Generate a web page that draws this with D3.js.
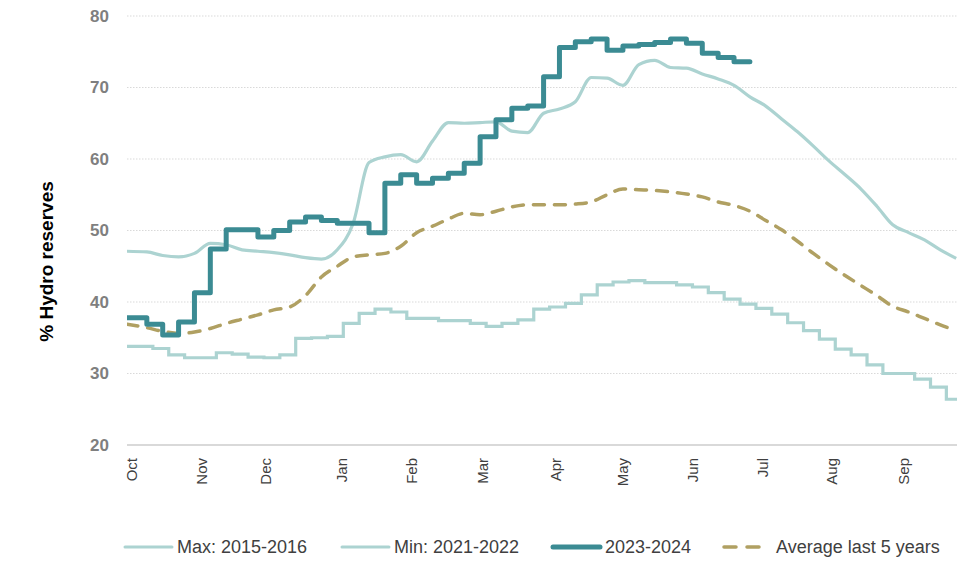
<!DOCTYPE html>
<html>
<head>
<meta charset="utf-8">
<script src="https://cdn.jsdelivr.net/npm/d3@7"></script>
<style>
  body { margin: 0; background: #fff; }
  svg { font-family: "Liberation Sans Narrow", "Liberation Sans", sans-serif; }
  .grid line { stroke: #d9d9d9; stroke-width: 1; stroke-dasharray: 1.5,1.5; }
  .yaxis text { fill: #7f7f7f; font-size: 17px; font-weight: bold; }
  .xaxis text { fill: #404040; font-size: 15px; }
  .axis path, .axis line { display: none; }
  .legend text { fill: #404040; font-size: 18px; }
</style>
</head>
<body>
<svg id="chart" width="958" height="564"></svg>
<script>
// month labels and where they sit, in weeks from start of October
const months = ["Oct", "Nov", "Dec", "Jan", "Feb", "Mar", "Apr", "May", "Jun", "Jul", "Aug", "Sep"];
const monthWeeks = [0, 4.41, 8.44, 13.23, 17.64, 22.12, 26.72, 30.94, 35.35, 39.76, 44.11, 48.64];
const yTicks = [20, 30, 40, 50, 60, 70, 80];

// weekly values, % hydro reserves
const maxSeries = [47.1, 47.0, 46.5, 46.3, 46.8, 48.2, 48.0, 47.3, 47.1, 46.9, 46.6, 46.2, 46.0, 47.3,
  51.0, 59.5, 60.3, 60.6, 59.6, 62.5, 65.1, 65.0, 65.1, 65.2, 63.9, 63.7, 66.4, 67.0, 68.0, 71.4,
  71.3, 70.3, 73.2, 73.8, 72.8, 72.7, 71.9, 71.2, 70.3, 68.7, 67.4, 65.6, 63.8, 61.8, 59.7, 57.8,
  55.8, 53.4, 50.8, 49.7, 48.7, 47.3, 46.1];
const minSeries = [33.8, 33.5, 32.6, 32.2, 32.2, 32.9, 32.7, 32.3, 32.2, 32.6, 34.9, 35.0, 35.2, 37.0,
  38.4, 39.0, 38.6, 37.7, 37.7, 37.4, 37.4, 37.0, 36.6, 37.0, 37.5, 39.0, 39.3, 39.8, 41.0, 42.4,
  42.8, 43.0, 42.7, 42.7, 42.4, 42.1, 41.3, 40.4, 39.7, 39.1, 38.3, 37.1, 36.0, 34.8, 33.4, 32.6,
  31.2, 30.0, 30.0, 29.2, 28.1, 26.4, 26.4];
const currentSeries = [37.8, 36.9, 35.4, 37.2, 41.3, 47.4, 50.1, 50.1, 49.1, 50.0, 51.2, 51.9, 51.4,
  51.0, 51.0, 49.7, 56.6, 57.8, 56.6, 57.3, 58.0, 59.4, 63.1, 65.5, 67.1, 67.4, 71.5, 75.6, 76.4,
  76.8, 75.2, 75.8, 76.0, 76.3, 76.8, 76.2, 74.8, 74.2, 73.6, 73.6];
const avgSeries = [36.9, 36.4, 35.9, 35.6, 35.8, 36.3, 37.0, 37.6, 38.2, 38.9, 39.3, 40.9, 43.5, 45.0,
  46.3, 46.6, 46.8, 47.8, 49.7, 50.6, 51.6, 52.4, 52.2, 52.7, 53.3, 53.6, 53.6, 53.6, 53.7, 54.0,
  55.0, 55.8, 55.7, 55.6, 55.4, 55.1, 54.7, 54.0, 53.5, 52.7, 51.4, 50.1, 48.5, 46.8, 45.2, 43.7,
  42.3, 40.9, 39.4, 38.6, 37.7, 36.8, 36.0];

const lightTeal = "#acd3d1", darkTeal = "#3b8b93", olive = "#b0a062";

const svg = d3.select("#chart");
const plotLeft = 127, plotRight = 957, plotTop = 16, plotBottom = 445;

const x = d3.scaleLinear().domain([-0.25, 52.05]).range([plotLeft, plotRight]);
const y = d3.scaleLinear().domain([20, 80]).range([plotBottom, plotTop]);

// first point starts at the left edge, weekly steps can be shifted a bit
const xAt = (i, shift) => x(i === 0 ? -0.25 : i + shift);

svg.append("clipPath").attr("id", "plot")
  .append("rect").attr("x", plotLeft).attr("y", 0)
  .attr("width", plotRight - plotLeft).attr("height", plotBottom);

// dotted gridlines
svg.append("g").attr("class", "grid")
  .selectAll("line").data(yTicks.filter(d => d > 20)).join("line")
  .attr("x1", plotLeft).attr("x2", plotRight)
  .attr("y1", d => y(d)).attr("y2", d => y(d));

// baseline at 20
svg.append("line")
  .attr("x1", plotLeft).attr("x2", plotRight).attr("y1", y(20)).attr("y2", y(20))
  .attr("stroke", "#d9d9d9").attr("stroke-width", 2);

// Y axis
const yAxis = svg.append("g").attr("class", "axis yaxis")
  .attr("transform", "translate(" + plotLeft + ",0)")
  .call(d3.axisLeft(y).tickValues(yTicks).tickSize(0).tickPadding(18));
yAxis.select(".domain").remove();

svg.append("text")
  .attr("transform", "translate(53," + (y(50) + 31) + ") rotate(-90)")
  .attr("text-anchor", "middle")
  .style("font-size", "19px").style("font-weight", "bold").style("fill", "#000")
  .text("% Hydro reserves");

// X axis, rotated month names
const xAxis = svg.append("g").attr("class", "axis xaxis")
  .attr("transform", "translate(0," + plotBottom + ")")
  .call(d3.axisBottom(x).tickValues(monthWeeks).tickSize(0)
    .tickFormat((d, i) => months[i]));
xAxis.select(".domain").remove();
xAxis.selectAll("text")
  .attr("transform", "rotate(-90)")
  .attr("x", -13).attr("y", 0).attr("dy", "0.35em")
  .style("text-anchor", "end");

const lines = svg.append("g").attr("clip-path", "url(#plot)");

const smooth = d3.line().x((d, i) => xAt(i, 0)).y(d => y(d)).curve(d3.curveMonotoneX);

lines.append("path").attr("d", smooth(maxSeries))
  .attr("fill", "none").attr("stroke", lightTeal).attr("stroke-width", 3.2);

lines.append("path")
  .attr("d", d3.line().x((d, i) => xAt(i, 0.38)).y(d => y(d)).curve(d3.curveStepAfter)(minSeries))
  .attr("fill", "none").attr("stroke", lightTeal).attr("stroke-width", 3.2);

lines.append("path").attr("d", smooth(avgSeries))
  .attr("fill", "none").attr("stroke", olive).attr("stroke-width", 3.5)
  .attr("stroke-dasharray", "11,10").attr("stroke-linecap", "round");

lines.append("path")
  .attr("d", d3.line().x((d, i) => xAt(i, 0)).y(d => y(d)).curve(d3.curveStepAfter)(currentSeries))
  .attr("fill", "none").attr("stroke", darkTeal).attr("stroke-width", 5)
  .attr("stroke-linejoin", "round").attr("stroke-linecap", "round");

// legend
const legendItems = [
  { label: "Max: 2015-2016", color: lightTeal, width: 3, dash: null, x: 125 },
  { label: "Min: 2021-2022", color: lightTeal, width: 3, dash: null, x: 342 },
  { label: "2023-2024", color: darkTeal, width: 5, dash: null, x: 553 },
  { label: "Average last 5 years", color: olive, width: 3.5, dash: "12,11", x: 724 }
];
const legend = svg.append("g").attr("class", "legend");
legendItems.forEach(function (d) {
  legend.append("line")
    .attr("x1", d.x).attr("x2", d.x + (d.dash ? 38 : 47))
    .attr("y1", 547).attr("y2", 547)
    .attr("stroke", d.color).attr("stroke-width", d.width)
    .attr("stroke-linecap", "round")
    .attr("stroke-dasharray", d.dash);
  legend.append("text")
    .attr("x", d.x + 52).attr("y", 547).attr("dy", "0.35em")
    .text(d.label);
});
</script>
</body>
</html>
